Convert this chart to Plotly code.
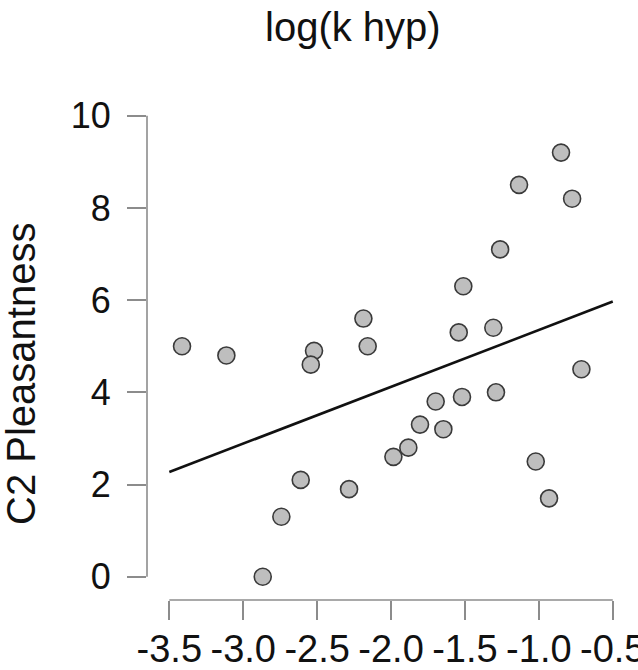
import plotly.graph_objects as go

# Data
log_k_hyp = [-3.414, -3.114, -2.521, -2.543, -2.187, -2.158, -0.850, -1.134, -0.775,
             -1.262, -1.511, -1.542, -1.308, -0.712, -1.290, -1.520, -1.698, -1.804,
             -1.646, -1.883, -1.984, -1.021, -0.931, -2.611, -2.284, -2.742, -2.868]
c2_pleasantness = [5.0, 4.8, 4.9, 4.6, 5.6, 5.0, 9.2, 8.5, 8.2,
                   7.1, 6.3, 5.3, 5.4, 4.5, 4.0, 3.9, 3.8, 3.3,
                   3.2, 2.8, 2.6, 2.5, 1.7, 2.1, 1.9, 1.3, 0.0]
fit_x = [-3.5, -0.5]
fit_y = [2.27, 5.97]

x_tick_vals = [-3.5, -3.0, -2.5, -2.0, -1.5, -1.0, -0.5]
x_tick_text = ["-3.5", "-3.0", "-2.5", "-2.0", "-1.5", "-1.0", "-0.5"]
y_tick_vals = [0, 2, 4, 6, 8, 10]
y_tick_text = ["0", "2", "4", "6", "8", "10"]

FONT = "Liberation Sans, Arial, sans-serif"
AXIS_COLOR = "#8c8c8c"

fig = go.Figure()
fig.add_trace(go.Scatter(
    x=fit_x, y=fit_y, mode="lines",
    line=dict(color="#111111", width=2.6),
    hoverinfo="skip", showlegend=False, cliponaxis=False,
))
fig.add_trace(go.Scatter(
    x=log_k_hyp, y=c2_pleasantness, mode="markers",
    marker=dict(size=17, color="#bebebe", line=dict(color="#3a3a3a", width=1.6)),
    showlegend=False, cliponaxis=False,
))

fig.update_layout(
    width=638, height=670,
    margin=dict(l=147, r=18, t=110, b=70, pad=0),
    paper_bgcolor="white", plot_bgcolor="white",
    font=dict(family=FONT, color="#111111"),
    xaxis=dict(
        range=[-3.651, -0.451], showgrid=False, zeroline=False, showline=False,
        tickmode="array", tickvals=x_tick_vals, ticktext=x_tick_text,
        ticks="outside", ticklen=19, tickwidth=1.6, tickcolor=AXIS_COLOR,
        tickfont=dict(size=38, family=FONT, color="#111111"),
        automargin=False, ticklabelstandoff=-4, ticklabeloverflow="allow",
    ),
    yaxis=dict(
        range=[-0.505, 10.124], showgrid=False, zeroline=False, showline=False,
        tickmode="array", tickvals=y_tick_vals, ticktext=y_tick_text,
        ticks="outside", ticklen=19, tickwidth=1.6, tickcolor=AXIS_COLOR,
        tickfont=dict(size=36, family=FONT, color="#111111"),
        automargin=False, ticklabelstandoff=9, ticklabeloverflow="allow",
    ),
    shapes=[
        dict(type="line", xref="x", yref="paper", x0=-3.5, x1=-0.5, y0=0, y1=0,
             line=dict(color=AXIS_COLOR, width=1.6)),
        dict(type="line", xref="paper", yref="y", x0=0, x1=0, y0=0, y1=10,
             line=dict(color=AXIS_COLOR, width=1.6)),
    ],
    annotations=[
        dict(text="log(k hyp)", xref="paper", yref="paper",
             x=(353 - 147) / 473, y=1 + (110 - 27) / 490,
             xanchor="center", yanchor="middle", showarrow=False,
             font=dict(size=40, family=FONT, color="#111111")),
        dict(text="C2 Pleasantness", xref="paper", yref="paper",
             x=(21 - 147) / 473, y=(600 - 374) / 490, textangle=-90,
             xanchor="center", yanchor="middle", showarrow=False,
             font=dict(size=40, family=FONT, color="#111111")),
    ],
)

fig.write_html(
    "out.html",
    config={"displayModeBar": False},
    post_script="document.body.style.margin='0';document.body.style.overflow='hidden';",
)
